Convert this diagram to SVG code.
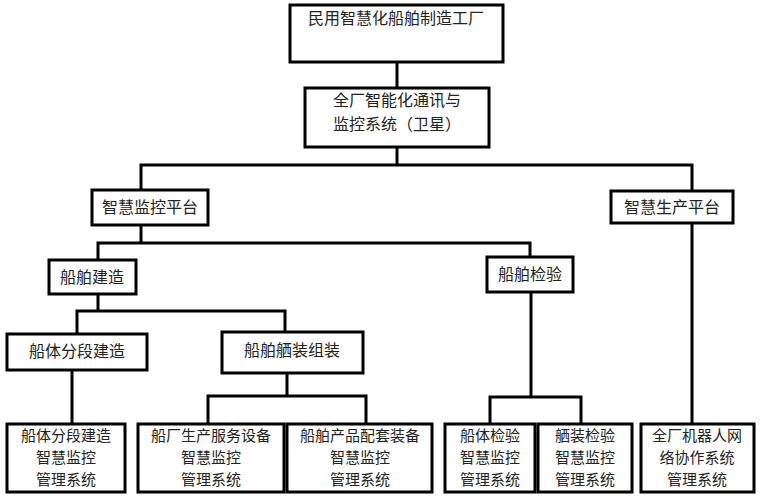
<svg xmlns="http://www.w3.org/2000/svg" width="761" height="500" viewBox="0 0 761 500">
<style>
.box{fill:#fff;stroke:#000;stroke-width:3}
.c{fill:none;stroke:#000;stroke-width:3;stroke-linecap:square}
text{font-family:"Noto Sans CJK SC","Noto Sans",sans-serif;font-size:16px;fill:#222;text-anchor:middle}
.s{font-size:15px}
</style>
<rect width="761" height="500" fill="#fff"/>
<g id="connectors">
<path class="c" d="M397,62V88"/>
<path class="c" d="M397,147V165M141,190V165H692V191"/>
<path class="c" d="M141,225V243M98,260V243H530V257"/>
<path class="c" d="M98,294V311M77,334V311H285V332"/>
<path class="c" d="M72,370V424"/>
<path class="c" d="M287,373V396M208,424V396H366V424"/>
<path class="c" d="M531,292V397M490,424V397H581V424"/>
<path class="c" d="M692,223V424"/>
</g>
<g id="n1"><rect class="box" x="290" y="5" width="213" height="57"/><text x="396" y="24" font-size="17">民用智慧化船舶制造工厂</text></g>
<g id="n2"><rect class="box" x="305" y="88" width="184" height="59"/><text x="397" y="106">全厂智能化通讯与</text><text x="397" y="130">监控系统（卫星）</text></g>
<g id="n3"><rect class="box" x="92" y="190" width="116" height="35"/><text x="150" y="213">智慧监控平台</text></g>
<g id="n4"><rect class="box" x="611" y="191" width="122" height="32"/><text x="672" y="213">智慧生产平台</text></g>
<g id="n5"><rect class="box" x="49" y="260" width="87" height="34"/><text x="92" y="283">船舶建造</text></g>
<g id="n6"><rect class="box" x="487" y="257" width="86" height="35"/><text x="530" y="280">船舶检验</text></g>
<g id="n7"><rect class="box" x="7" y="334" width="140" height="36"/><text x="77" y="357">船体分段建造</text></g>
<g id="n8"><rect class="box" x="222" y="332" width="141" height="41"/><text x="292" y="356">船舶舾装组装</text></g>
<g id="n9" class="s"><rect class="box" x="7" y="424" width="118" height="68"/><text class="s" x="66" y="441">船体分段建造</text><text class="s" x="66" y="463">智慧监控</text><text class="s" x="66" y="485">管理系统</text></g>
<g id="n10"><rect class="box" x="138" y="424" width="146" height="68"/><text class="s" x="211" y="441">船厂生产服务设备</text><text class="s" x="211" y="463">智慧监控</text><text class="s" x="211" y="485">管理系统</text></g>
<g id="n11"><rect class="box" x="287" y="424" width="145" height="68"/><text class="s" x="360" y="441">船舶产品配套装备</text><text class="s" x="360" y="463">智慧监控</text><text class="s" x="360" y="485">管理系统</text></g>
<g id="n12"><rect class="box" x="445" y="424" width="90" height="68"/><text class="s" x="490" y="441">船体检验</text><text class="s" x="490" y="463">智慧监控</text><text class="s" x="490" y="485">管理系统</text></g>
<g id="n13"><rect class="box" x="538" y="424" width="94" height="68"/><text class="s" x="585" y="441">舾装检验</text><text class="s" x="585" y="463">智慧监控</text><text class="s" x="585" y="485">管理系统</text></g>
<g id="n14"><rect class="box" x="641" y="424" width="113" height="68"/><text class="s" x="697" y="441">全厂机器人网</text><text class="s" x="697" y="463">络协作系统</text><text class="s" x="697" y="485">管理系统</text></g>
</svg>
